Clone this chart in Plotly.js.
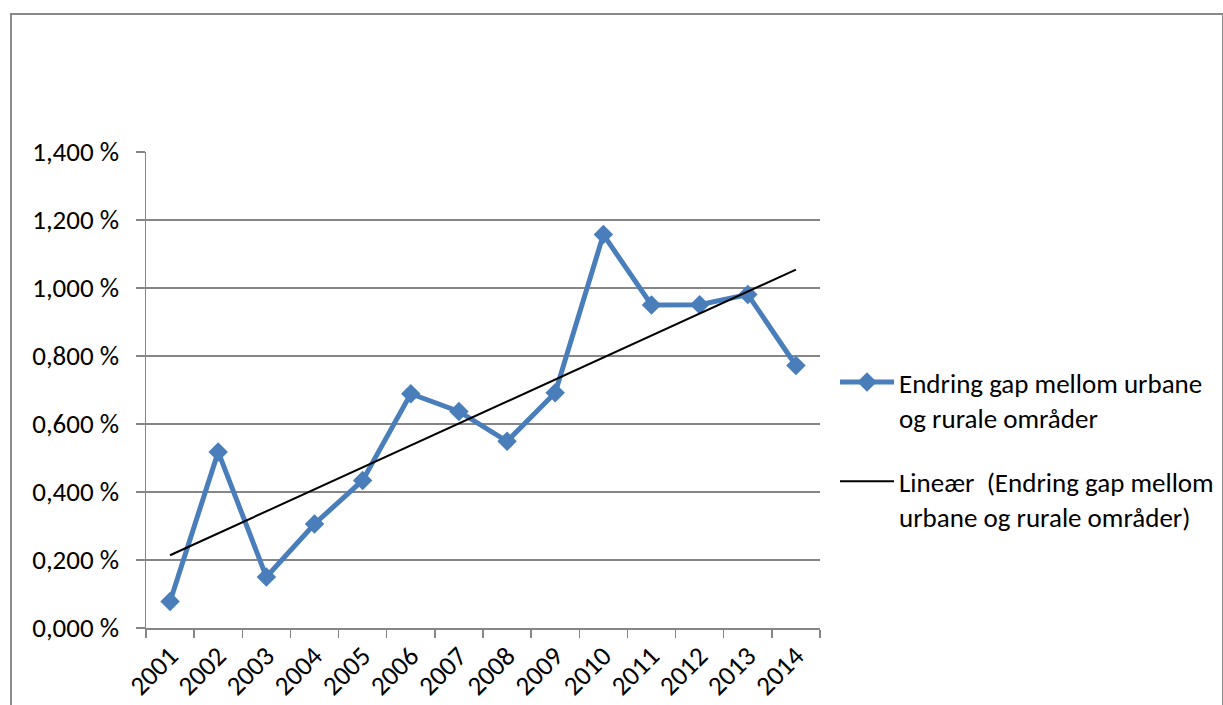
<!DOCTYPE html>
<html>
<head>
<meta charset="utf-8">
<script src="https://cdn.plot.ly/plotly-3.0.1.min.js"></script>
<style>
html,body{margin:0;padding:0;background:#fff;}
#wrap{position:relative;width:1223px;height:705px;overflow:hidden;}
#chart{width:1223px;height:705px;}
#frame{position:absolute;left:10px;top:13px;width:1210px;height:720px;border:2px solid #8a8a8a;pointer-events:none;}
</style>
</head>
<body>
<div id="wrap"><div id="chart"></div><div id="frame"></div></div>
<script>
const years = ['2001','2002','2003','2004','2005','2006','2007','2008','2009','2010','2011','2012','2013','2014'];
const gapChange = [0.078,0.518,0.150,0.306,0.434,0.689,0.637,0.549,0.692,1.157,0.950,0.951,0.981,0.772];
const trendYears = ['2001','2014'];
const trendValues = [0.214,1.054];
const yTicks = [0,0.2,0.4,0.6,0.8,1.0,1.2,1.4];
const yTickLabels = ['0,000 %','0,200 %','0,400 %','0,600 %','0,800 %','1,000 %','1,200 %','1,400 %'];
const seriesName = 'Endring gap mellom urbane<br>og rurale områder';
const trendName = 'Lineær&nbsp; (Endring gap mellom<br>urbane og rurale områder)';

const FONT = 'Carlito, Calibri, Lato, sans-serif';

const traces = [
  {
    x: years, y: gapChange, type: 'scatter', mode: 'lines+markers',
    name: seriesName, legendgroup: 'a',
    line: {color: '#4a7ebb', width: 5},
    marker: {symbol: 'diamond', size: 15, color: '#4a7ebb'}
  },
  {
    x: trendYears, y: trendValues, type: 'scatter', mode: 'lines',
    name: trendName, legendgroup: 'b',
    line: {color: '#000000', width: 2}
  }
];

const layout = {
  width: 1223, height: 705,
  margin: {l: 146, r: 403, t: 152, b: 77, pad: 0, autoexpand: false},
  paper_bgcolor: '#ffffff', plot_bgcolor: '#ffffff',
  font: {family: FONT, size: 26, color: '#000'},
  showlegend: true,
  legend: {
    xref: 'container', yref: 'container',
    x: 835/1223, xanchor: 'left', y: 1 - 358/705, yanchor: 'top',
    font: {family: FONT, size: 27, color: '#000'},
    itemwidth: 54, valign: 'top', tracegroupgap: 26,
    bgcolor: 'rgba(0,0,0,0)'
  },
  xaxis: {
    type: 'category', categoryorder: 'array', categoryarray: years,
    range: [-0.5, 13.5],
    showgrid: false, zeroline: false,
    showline: true, linecolor: '#868686', linewidth: 1.5,
    ticks: 'outside', ticklen: 8, tickcolor: '#868686', tickwidth: 1.5,
    tickson: 'boundaries',
    tickangle: -45,
    tickfont: {family: FONT, size: 27, color: '#000'}
  },
  yaxis: {
    range: [0, 1.4],
    tickmode: 'array', tickvals: yTicks, ticktext: yTickLabels,
    showgrid: true, gridcolor: '#868686', gridwidth: 1.5,
    zeroline: false,
    showline: true, linecolor: '#868686', linewidth: 1.5,
    ticks: 'outside', ticklen: 9, tickcolor: '#868686', tickwidth: 1.5,
    ticklabelstandoff: 11,
    tickfont: {family: FONT, size: 27, color: '#000'}
  }
};

Plotly.newPlot('chart', traces, layout, {displayModeBar: false, staticPlot: true});
</script>
</body>
</html>
